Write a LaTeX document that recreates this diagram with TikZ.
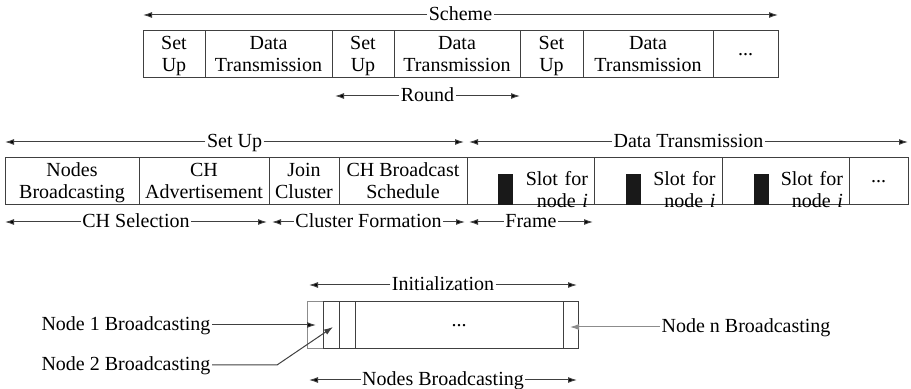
\documentclass[tikz,border=0pt]{standalone}
\usepackage{fontspec}
\setmainfont{Liberation Serif}
\usetikzlibrary{arrows.meta}
\definecolor{linegray}{gray}{0.25}
\definecolor{lightline}{gray}{0.55}
\tikzset{
  box/.style={draw=linegray, line width=0.5pt, minimum height=23.5pt, inner sep=0pt,
    font=\fontsize{10}{11}\selectfont},
  cell/.style={box, text height=19pt, text depth=1.5pt, align=center},
  slot/.style={box, minimum width=63.5pt, text width=57.5pt, text height=9pt, text depth=4.5pt, align=right},
  lbl/.style={inner sep=0.6pt, text height=6.8pt, text depth=1.6pt, font=\fontsize{10}{11}\selectfont},
  span/.style={draw=linegray, line width=0.5pt, -{Latex[length=4.5pt,width=3pt]}},
  bar/.style={fill=black!90, minimum width=7.5pt, minimum height=15.5pt, inner sep=0pt, anchor=south},
}
\begin{document}
\begin{tikzpicture}[x=0.5pt, y=-0.5pt]
\useasboundingbox (0,0) rectangle (911,389);
% scheme row
\node[cell, minimum width=31pt] (s1) at (174,54.5) {Set\\Up};
\node[cell, minimum width=63.5pt] (s2) at (268.5,54.5) {Data\\Transmission};
\node[cell, minimum width=31pt] (s3) at (363,54.5) {Set\\Up};
\node[cell, minimum width=63pt] (s4) at (457,54.5) {Data\\Transmission};
\node[cell, minimum width=31.5pt] (s5) at (551.5,54.5) {Set\\Up};
\node[cell, minimum width=65pt] (s6) at (648,54.5) {Data\\Transmission};
\node[box, minimum width=32.5pt] (s7) at (745.5,54.5) {...};
\node[lbl] (scheme) at (460.5,15) {Scheme};
\coordinate (schemeL) at (143,15);
\coordinate (schemeR) at (778,15);
\node[lbl] (round) at (427.5,96) {Round};
\coordinate (roundL) at (335,96);
\coordinate (roundR) at (520,96);
\path[span]
(scheme) edge (schemeL) edge (schemeR)
(round) edge (roundL) edge (roundR);
% round detail
\node[cell, minimum width=67pt] (d1) at (72,181.5) {Nodes\\Broadcasting};
\node[cell, minimum width=65pt] (d2) at (204,181.5) {CH\\Advertisement};
\node[cell, minimum width=35pt] (d3) at (304,181.5) {Join\\Cluster};
\node[cell, minimum width=64pt] (d4) at (403,181.5) {CH Broadcast\\Schedule};
\node[slot] (d5) at (530.5,181.5) {Slot for\\node \textit{i}};
\node[slot, minimum width=64pt] (d6) at (658,181.5) {Slot for\\node \textit{i}};
\node[slot] (d7) at (785.5,181.5) {Slot for\\node \textit{i}};
\node[box, minimum width=29.5pt] (d8) at (878.5,181.5) {...};
\node[bar] (barA) at (505.5,205) {};
\node[bar] (barB) at (633.5,205) {};
\node[bar] (barC) at (761.5,205) {};
\node[lbl] (setup) at (234.5,142) {Set Up};
\coordinate (setupL) at (5,142);
\coordinate (setupR) at (464,142);
\node[lbl] (data) at (688.5,142) {Data Transmission};
\coordinate (dataL) at (469,142);
\coordinate (dataR) at (908,142);
\node[lbl] (chsel) at (136,222) {CH Selection};
\coordinate (chselL) at (5,222);
\coordinate (chselR) at (267,222);
\node[lbl] (clform) at (368.5,222) {Cluster Formation};
\coordinate (clformL) at (272,222);
\coordinate (clformR) at (465,222);
\node[lbl] (frame) at (531,222) {Frame};
\coordinate (frameL) at (469,222);
\coordinate (frameR) at (593,222);
\path[span]
(setup) edge (setupL) edge (setupR)
(data) edge (dataL) edge (dataR)
(chsel) edge (chselL) edge (chselR)
(clform) edge (clformL) edge (clformR)
(frame) edge (frameL) edge (frameR);
% initialization
\node[box, draw=lightline, minimum width=8pt] (e1) at (315,325.5) {};
\node[box, minimum width=8pt] (e2) at (331,325.5) {};
\node[box, minimum width=8pt] (e3) at (347,325.5) {};
\node[box, minimum width=104pt] (e4) at (459,325.5) {...};
\node[box, minimum width=7.5pt] (e5) at (570.5,325.5) {};
\node[lbl] (init) at (443,285) {Initialization};
\coordinate (initL) at (309,285);
\coordinate (initR) at (577,285);
\node[lbl] (nbcast) at (443,380) {Nodes Broadcasting};
\coordinate (nbcastL) at (309,380);
\coordinate (nbcastR) at (577,380);
\node[lbl, anchor=east] (nodeone) at (212,325) {Node 1 Broadcasting};
\coordinate (oneend) at (316,325);
\node[lbl, anchor=east] (nodetwo) at (212,365) {Node 2 Broadcasting};
\coordinate (twobend) at (277,365);
\coordinate (twoend) at (333,327);
\node[lbl, anchor=west] (noden) at (660,327) {Node n Broadcasting};
\coordinate (nend) at (570,327);
\path[span]
(init) edge (initL) edge (initR)
(nbcast) edge (nbcastL) edge (nbcastR)
(nodeone) edge (oneend)
(noden) edge[draw=lightline] (nend);
\draw[span] (nodetwo) -- (twobend) -- (twoend);
\end{tikzpicture}
\end{document}
